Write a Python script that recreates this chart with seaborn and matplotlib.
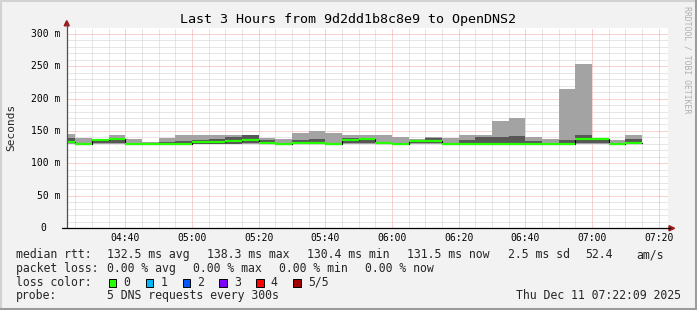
import numpy as np
import matplotlib
matplotlib.use("Agg")
import matplotlib.pyplot as plt
import matplotlib.transforms as mtransforms
from matplotlib.patches import Rectangle, Polygon
from matplotlib.lines import Line2D
from matplotlib.ticker import MultipleLocator
import seaborn as sns

# ---------------- data ----------------
bar_end = ["04:25", "04:30", "04:35", "04:40", "04:45", "04:50", "04:55", "05:00",
           "05:05", "05:10", "05:15", "05:20", "05:25", "05:30", "05:35", "05:40",
           "05:45", "05:50", "05:55", "06:00", "06:05", "06:10", "06:15", "06:20",
           "06:25", "06:30", "06:35", "06:40", "06:45", "06:50", "06:55", "07:00",
           "07:05", "07:10", "07:15"]
ping_max = [145.4, 139.7, 137.7, 143.8, 137.7, 132.5, 139.7, 143.8, 143.8, 143.8,
            143.8, 144.0, 138.7, 137.7, 146.9, 150.0, 146.9, 143.8, 143.8, 143.8,
            140.7, 137.7, 140.3, 139.7, 144.3, 144.3, 165.4, 170.0, 140.7, 137.7,
            214.7, 253.3, 138.6, 136.0, 144.3]
ping_p4 = [139.7, 131.5, 137.0, 138.5, 131.0, 131.5, 133.5, 135.0, 136.0, 138.3,
           141.2, 143.8, 135.5, 131.0, 136.7, 138.3, 131.5, 138.5, 138.0, 133.0,
           132.0, 136.5, 139.0, 131.5, 136.0, 140.7, 140.7, 142.3, 135.0, 131.5,
           136.0, 143.8, 138.4, 131.0, 137.7]
ping_median = [132.6, 130.4, 136.2, 137.8, 130.4, 130.4, 130.5, 130.5, 132.5, 133.5,
               134.0, 135.5, 131.8, 130.2, 132.0, 132.0, 130.2, 136.0, 137.4, 131.5,
               130.3, 134.6, 134.6, 130.3, 130.5, 130.5, 130.5, 130.5, 130.5, 130.5,
               130.5, 137.0, 138.3, 130.4, 131.5]
ping_p2 = [131.0, 130.0, 131.0, 131.0, 130.0, 130.0, 130.0, 130.0, 130.5, 130.5,
           130.5, 131.0, 130.5, 129.8, 130.5, 130.5, 129.8, 131.0, 131.0, 130.0,
           129.8, 131.0, 131.0, 129.8, 130.0, 130.0, 130.0, 130.0, 130.0, 130.0,
           130.0, 131.0, 131.0, 130.0, 130.5]
ping_min = [130.0, 129.5, 130.0, 130.0, 129.5, 129.5, 129.5, 129.5, 130.0, 130.0,
            130.0, 130.0, 130.0, 129.5, 130.0, 130.0, 129.5, 130.0, 130.0, 129.5,
            129.5, 130.0, 130.0, 129.5, 129.5, 129.5, 129.5, 129.5, 129.5, 129.5,
            129.5, 130.0, 130.0, 129.5, 130.0]

x_tick_labels = ["04:40", "05:00", "05:20", "05:40", "06:00", "06:20", "06:40", "07:00", "07:20"]
y_ticks = [0, 50, 100, 150, 200, 250, 300]
y_tick_labels = ["0", "50 m", "100 m", "150 m", "200 m", "250 m", "300 m"]

title = "Last 3 Hours from 9d2dd1b8c8e9 to OpenDNS2"
y_label = "Seconds"
watermark = "RRDTOOL / TOBI OETIKER"

rtt_label = "median rtt:"
rtt_stats = ["132.5 ms avg", "138.3 ms max", "130.4 ms min", "131.5 ms now", "2.5 ms sd", "52.4", "am/s"]
loss_label = "packet loss:"
loss_stats = ["0.00 % avg", "0.00 % max", "0.00 % min", "0.00 % now"]
color_label = "loss color:"
loss_names = ["0", "1", "2", "3", "4", "5/5"]
loss_colors = ["#26ff00", "#00b8ff", "#0059ff", "#7e00ff", "#ff0000", "#a00000"]
probe_label = "probe:"
probe_text = "5 DNS requests every 300s"
timestamp = "Thu Dec 11 07:22:09 2025"

# ---------------- layout ----------------
W, H = 697, 310
sns.set_theme(style="white")
plt.rcParams["font.family"] = ["DejaVu Sans Mono"]

fig = plt.figure(figsize=(W / 100, H / 100), dpi=100, facecolor="#f2f2f2")


def fx(x):
    return x / W


def fy(y):
    return 1 - y / H


ax = fig.add_axes([fx(66.7), fy(228.3), fx(668.3) - fx(66.7), fy(27.7) - fy(228.3)])
ax.set_facecolor("white")


def to_min(s):
    h, m = s.split(":")
    return int(h) * 60 + int(m) - 240


t_end = np.array([to_min(s) for s in bar_end], dtype=float)
pmax = np.array(ping_max)
p4 = np.array(ping_p4)
med = np.array(ping_median)
p2 = np.array(ping_p2)
pmin = np.array(ping_min)

ax.set_xlim(22.42, 202.88)
ax.set_ylim(0, 309.2)

# grid
ax.xaxis.set_minor_locator(MultipleLocator(5))
ax.yaxis.set_minor_locator(MultipleLocator(10))
ax.set_xticks([to_min(s) for s in x_tick_labels])
ax.set_xticklabels(x_tick_labels)
ax.set_yticks(y_ticks)
ax.set_yticklabels([])
ax.set_axisbelow(True)
ax.grid(which="minor", color="#cfcfcf", linestyle=(0, (1, 1)), linewidth=0.72)
ax.grid(which="major", color="#f2a4a4", linestyle=(0, (1, 1)), linewidth=0.72)
ax.tick_params(axis="x", which="major", length=0, pad=3.6, labelsize=7, colors="black")
ax.tick_params(axis="both", which="minor", length=0)
ax.tick_params(axis="y", which="major", length=0)
for sp in ax.spines.values():
    sp.set_visible(False)

# smoke
ax.bar(t_end - 5, pmax - pmin, width=5, bottom=pmin, align="edge",
       color="#a3a3a3", linewidth=0, zorder=2)
ax.bar(t_end - 5, p4 - p2, width=5, bottom=p2, align="edge",
       color="#575757", linewidth=0, zorder=3)
# median step (black connectors) and loss-coloured median
sns.lineplot(x=np.r_[t_end[0] - 5, t_end], y=np.r_[med[0], med], drawstyle="steps-pre",
             color="black", linewidth=0.8, ax=ax, estimator=None, sort=False, zorder=4)
ax.hlines(med, t_end - 5, t_end, color=loss_colors[0], linewidth=1.6, zorder=5)

# y tick labels
trans = mtransforms.blended_transform_factory(fig.transFigure, ax.transData)
for v, lab in zip(y_ticks, y_tick_labels):
    xr = 60 if lab != "0" else 46.7
    ax.text(fx(xr), v, lab, transform=trans, ha="right", va="center",
            fontsize=7, color="black", clip_on=False)

# axes lines + arrows
fig.add_artist(Line2D([fx(66.7), fx(66.7)], [fy(228.3), fy(24)], color="#505050",
                      linewidth=0.9, transform=fig.transFigure))
fig.add_artist(Line2D([fx(61.7), fx(669.5)], [fy(228.3), fy(228.3)], color="black",
                      linewidth=0.9, transform=fig.transFigure))
fig.add_artist(Polygon([[fx(64.2), fy(25.8)], [fx(69.3), fy(25.8)], [fx(66.75), fy(20.6)]],
                       closed=True, color="#9b1c1c", transform=fig.transFigure))
fig.add_artist(Polygon([[fx(669), fy(225.7)], [fx(669), fy(230.9)], [fx(674.6), fy(228.3)]],
                       closed=True, color="#9b1c1c", transform=fig.transFigure))

# titles
fig.text(fx(347.8), fy(19), title, ha="center", va="center", fontsize=9.6, color="black")
fig.text(fx(11), fy(127), y_label, rotation=90, ha="center", va="center", fontsize=8)
fig.text(fx(687.5), fy(59.5), watermark, rotation=270, ha="center", va="center",
         fontsize=5.9, color="#b0b0b0")

# legend
fs = 8.3
rows = [258.2, 271.9, 285.6, 299.3]
fig.text(fx(16), fy(rows[0]), rtt_label, fontsize=fs, va="baseline")
for xpos, s in zip([107.3, 207.3, 307.3, 407.3, 507.5, 585, 636], rtt_stats):
    fig.text(fx(xpos), fy(rows[0]), s, fontsize=fs, va="baseline")
fig.text(fx(16), fy(rows[1]), loss_label, fontsize=fs, va="baseline")
for i, s in enumerate(loss_stats):
    fig.text(fx(107.3 + i * 86), fy(rows[1]), s, fontsize=fs, va="baseline")
fig.text(fx(16), fy(rows[2]), color_label, fontsize=fs, va="baseline")
for i, (name, col) in enumerate(zip(loss_names, loss_colors)):
    x0 = 108.7 + i * 36.9
    fig.add_artist(Rectangle((fx(x0), fy(286.7)), fx(7.5), 8 / H, facecolor=col,
                             edgecolor="black", linewidth=0.7, transform=fig.transFigure))
    fig.text(fx(x0 + 14.6), fy(rows[2]), name, fontsize=fs, va="baseline")
fig.text(fx(16), fy(rows[3]), probe_label, fontsize=fs, va="baseline")
fig.text(fx(107.3), fy(rows[3]), probe_text, fontsize=fs, va="baseline")
fig.text(fx(680.5), fy(rows[3]), timestamp, fontsize=fs, va="baseline", ha="right")

# frame border
fig.add_artist(Line2D([0, 1], [fy(0.8), fy(0.8)], color="#d2d2d2", linewidth=1.5, transform=fig.transFigure))
fig.add_artist(Line2D([fx(0.8), fx(0.8)], [0, 1], color="#d2d2d2", linewidth=1.5, transform=fig.transFigure))
fig.add_artist(Line2D([0, 1], [fy(308.5), fy(308.5)], color="#9c9c9c", linewidth=2.2, transform=fig.transFigure))
fig.add_artist(Line2D([fx(695.5), fx(695.5)], [0, 1], color="#9c9c9c", linewidth=2.2, transform=fig.transFigure))

fig.savefig("out.png", dpi=100, facecolor=fig.get_facecolor())
